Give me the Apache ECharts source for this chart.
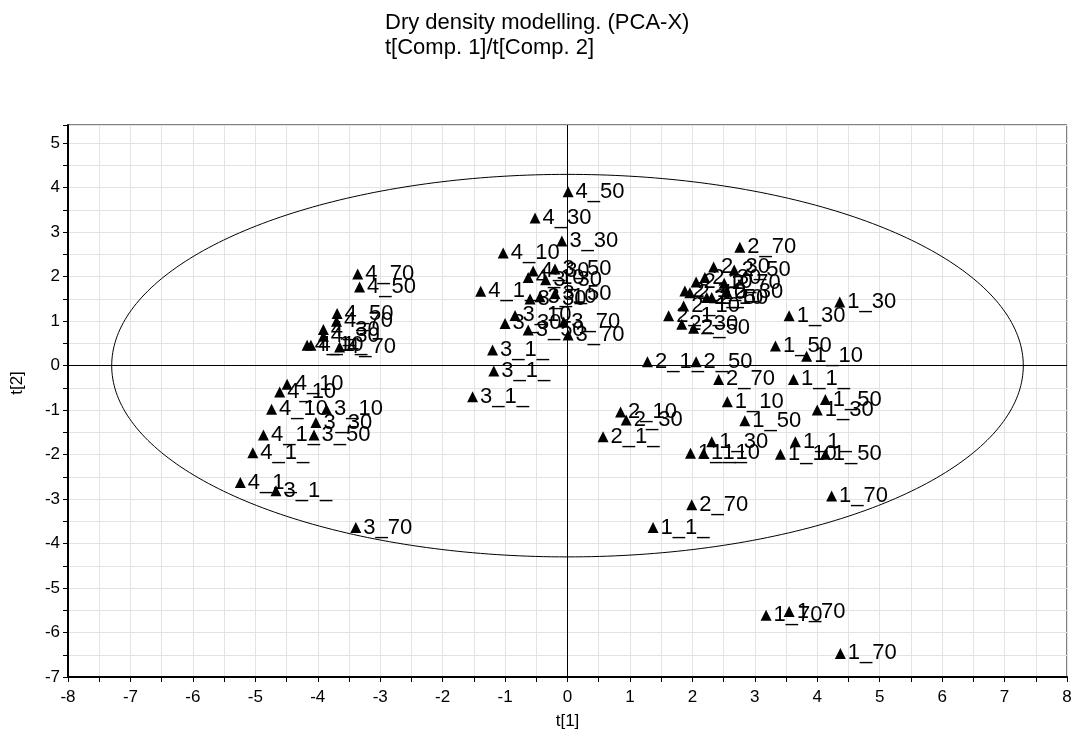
<!DOCTYPE html>
<html><head><meta charset="utf-8">
<script src="https://cdn.jsdelivr.net/npm/echarts@6/dist/echarts.min.js"></script>
<style>html,body{margin:0;padding:0;background:#fff}#c{width:1075px;height:755px}</style>
</head><body><div id="c"></div>
<script>
// observation labels
const pointNames = [
  '4_70','4_50','4_50','4_70','4_30','4_30','4_10','4_1_','4_70',
  '4_10','4_10','4_10','3_10','3_30','3_50','4_1_','4_1_','4_1_','3_1_','3_70',
  '4_50','4_30','3_30','4_10','3_50','4_30','4_10','3_30','4_1_','3_50','3_10','3_30',
  '3_10','3_30','3_50','3_70','3_70','3_1_','3_1_','3_1_',
  '2_70','2_30','2_50','2_30','2_10','2_70','2_1_','2_10','2_10','2_50','2_30','2_10','2_1_','2_30','2_50',
  '2_1_','2_50','2_70',
  '1_30','1_30','1_50','1_10','1_1_','1_10','1_50','1_30','1_50','1_30','1_1_','1_1_','1_10','1_10','1_50',
  '1_70','1_1_','1_70','1_70','1_70',
  '2_10','2_30','2_1_','2_70'
];
// t[1] scores
const t1 = [
  -3.36,-3.33,-3.69,-3.70,-3.91,-3.91,-4.17,-4.11,-3.65,
  -4.49,-4.61,-4.74,-3.86,-4.03,-4.06,-4.87,-5.04,-5.24,-4.67,-3.39,
  0.01,-0.52,-0.09,-1.03,-0.20,-0.55,-0.63,-0.35,-1.39,-0.20,-0.44,-0.60,
  -0.84,-1.00,-0.63,-0.06,0.01,-1.20,-1.18,-1.52,
  2.76,2.34,2.67,2.20,2.06,2.51,1.88,1.96,2.23,2.31,2.55,1.86,1.62,1.83,2.02,
  1.28,2.06,2.42,
  3.55,4.36,3.33,3.83,3.62,2.56,4.13,4.00,2.84,2.31,3.65,1.97,2.18,3.41,4.13,
  4.23,1.37,3.18,3.55,4.37,
  0.85,0.94,0.57,1.99
];
// t[2] scores
const t2 = [
  2.06,1.77,1.17,1.00,0.81,0.66,0.46,0.46,0.42,
  -0.42,-0.59,-0.98,-0.98,-1.28,-1.56,-1.56,-1.96,-2.63,-2.81,-3.64,
  3.91,3.32,2.80,2.53,2.17,2.13,1.98,1.93,1.67,1.62,1.55,1.50,
  1.13,0.95,0.80,0.98,0.69,0.35,-0.12,-0.70,
  2.66,2.22,2.15,1.98,1.88,1.85,1.68,1.64,1.53,1.53,1.66,1.34,1.12,0.93,0.84,
  0.09,0.09,-0.31,
  1.12,1.43,0.44,0.21,-0.31,-0.81,-0.76,-1.00,-1.24,-1.71,-1.71,-1.97,-1.97,-1.99,-1.99,
  -2.93,-3.64,-5.61,-5.53,-6.47,
  -1.04,-1.22,-1.60,-3.13
];
// Hotelling T2 ellipse semi-axes
const ellipseA = 7.3;
const ellipseB = 4.3;
const titleLines = ['Dry density modelling. (PCA-X)', 't[Comp. 1]/t[Comp. 2]'];
const xName = 't[1]';
const yName = 't[2]';

const ellipsePts = [];
for (let i = 0; i <= 360; i++) {
  const a = i * Math.PI / 180;
  ellipsePts.push([ellipseA * Math.cos(a), ellipseB * Math.sin(a)]);
}
const pts = t1.map((x, i) => ({ value: [x, t2[i]], name: pointNames[i] }));

const FONT = 'Liberation Sans, Arial, sans-serif';
const intLabel = v => (Math.abs(v - Math.round(v)) < 1e-6 ? String(Math.round(v)) : '');

const chart = echarts.init(document.getElementById('c'), null, { renderer: 'canvas' });
chart.setOption({
  animation: false,
  backgroundColor: '#fff',
  title: {
    text: titleLines.join('\n'),
    left: 380, top: 5,
    textStyle: { fontFamily: FONT, fontSize: 22, fontWeight: 'normal', color: '#000', lineHeight: 25 }
  },
  grid: { left: 68, right: 8, top: 125, bottom: 78, show: true, borderColor: '#000', borderWidth: 1 },
  xAxis: {
    type: 'value', min: -8, max: 8, interval: 0.5,
    name: xName, nameLocation: 'middle', nameGap: 36,
    nameTextStyle: { fontFamily: FONT, fontSize: 17, color: '#000' },
    axisLine: { onZero: false, lineStyle: { color: '#000', width: 2 } },
    axisTick: { length: 5, lineStyle: { color: '#000' } },
    axisLabel: { formatter: intLabel, fontFamily: FONT, fontSize: 17, color: '#000', margin: 12, showMinLabel: true, showMaxLabel: true },
    splitLine: { show: true, lineStyle: { color: '#e3e3e3', width: 1 } }
  },
  yAxis: {
    type: 'value', min: -7, max: 5.41, interval: 0.5,
    name: yName, nameLocation: 'middle', nameGap: 42, nameRotate: 90,
    nameTextStyle: { fontFamily: FONT, fontSize: 17, color: '#000', padding: [0, 0, 0, 36] },
    axisLine: { onZero: false, lineStyle: { color: '#000', width: 2 } },
    axisTick: { length: 5, lineStyle: { color: '#000' } },
    axisLabel: { formatter: intLabel, fontFamily: FONT, fontSize: 17, color: '#000', margin: 8 },
    splitLine: { show: true, lineStyle: { color: '#e3e3e3', width: 1 } }
  },
  series: [
    {
      type: 'line', data: ellipsePts, showSymbol: false, symbol: 'none', smooth: false,
      lineStyle: { color: '#000', width: 1 }, silent: true, z: 2,
      markLine: {
        silent: true, symbol: ['none', 'none'], label: { show: false },
        lineStyle: { color: '#000', width: 1, type: 'solid' },
        data: [{ xAxis: 0 }, { yAxis: 0 }]
      }
    },
    {
      type: 'scatter', data: pts, symbol: 'triangle', symbolSize: 11, z: 5,
      itemStyle: { color: '#000', opacity: 1 },
      label: {
        show: true, position: 'right', distance: 2, formatter: p => p.name,
        fontFamily: FONT, fontSize: 22, color: '#000', opacity: 1
      },
      labelLayout: { hideOverlap: false }
    }
  ]
});
</script>
</body></html>
